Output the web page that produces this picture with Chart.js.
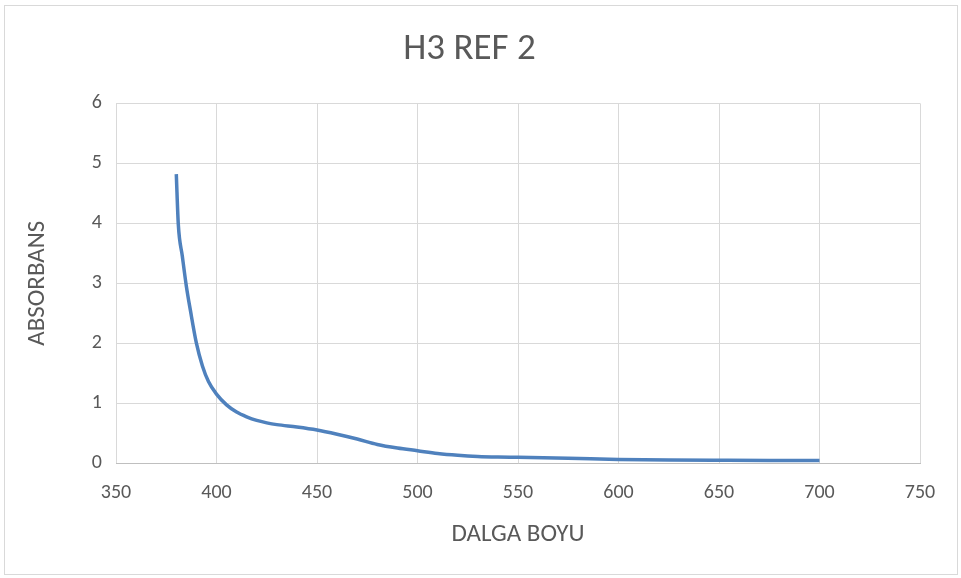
<!DOCTYPE html>
<html>
<head>
<meta charset="utf-8">
<script src="https://cdn.jsdelivr.net/npm/chart.js@4/dist/chart.umd.min.js"></script>
<style>
  body { margin: 0; background: #fff; }
  #wrap { width: 961px; height: 578px; }
</style>
</head>
<body>
<div id="wrap"><canvas id="grafico" width="961" height="578"></canvas></div>
<script>
// dalga boyu (nm) ve absorbans degerleri
const dalgaBoyu = [380, 381, 383, 385, 387, 390, 393, 396, 400, 405, 410, 415, 420, 425, 430, 440, 450, 460, 470, 480, 490, 500, 510, 520, 530, 540, 550, 575, 600, 625, 650, 675, 700];
const absorbans = [4.82, 3.98, 3.45, 2.95, 2.55, 2.0, 1.62, 1.36, 1.15, 0.97, 0.85, 0.77, 0.71, 0.67, 0.64, 0.6, 0.55, 0.48, 0.4, 0.31, 0.25, 0.205, 0.16, 0.13, 0.11, 0.1, 0.095, 0.08, 0.06, 0.05, 0.045, 0.042, 0.042];
const baslik = "H3 REF 2";
const xBaslik = "DALGA BOYU";
const yBaslik = "ABSORBANS";

const gri = "#595959";
const font = "Calibri, Carlito, 'Liberation Sans Narrow', 'Open Sans', sans-serif";

const cerceve = {
  id: "cerceve",
  beforeDraw(chart) {
    const c = chart.ctx;
    c.save();
    c.fillStyle = "#fff";
    c.fillRect(0, 0, chart.width, chart.height);
    c.strokeStyle = "#d9d9d9";
    c.lineWidth = 1;
    c.strokeRect(4.5, 5.5, 953, 569);
    c.restore();
  }
};

new Chart(document.getElementById("grafico"), {
  type: "scatter",
  data: {
    datasets: [{
      data: dalgaBoyu.map((x, i) => ({ x, y: absorbans[i] })),
      showLine: true,
      borderColor: "#4F81BD",
      borderWidth: 3.5,
      pointRadius: 0,
      cubicInterpolationMode: "monotone",
      fill: false
    }]
  },
  options: {
    responsive: false,
    animation: false,
    layout: { padding: { left: 19, right: 41, top: 0, bottom: 0 } },
    plugins: {
      legend: { display: false },
      tooltip: { enabled: false },
      title: {
        display: true,
        text: baslik,
        color: gri,
        font: { family: font, size: 37, weight: "normal" },
        padding: { top: 28, bottom: 31 }
      }
    },
    scales: {
      x: {
        type: "linear",
        min: 350,
        max: 750,
        afterFit(s) { s.height = 115; },
        ticks: { stepSize: 50, color: gri, font: { family: font, size: 20 }, padding: 18 },
        grid: { color: "#d9d9d9", drawTicks: false },
        border: { color: "#bfbfbf" },
        title: { display: true, text: xBaslik, color: gri, font: { family: font, size: 25 }, padding: { top: 14, bottom: 28 } }
      },
      y: {
        min: 0,
        max: 6,
        afterFit(s) { s.width = 97; },
        ticks: { stepSize: 1, color: gri, font: { family: font, size: 20 }, padding: 14 },
        grid: { color: "#d9d9d9", drawTicks: false },
        border: { display: false },
        title: { display: true, text: yBaslik, color: gri, font: { family: font, size: 25 }, padding: { top: 4, bottom: 4 } }
      }
    }
  },
  plugins: [cerceve]
});
</script>
</body>
</html>
